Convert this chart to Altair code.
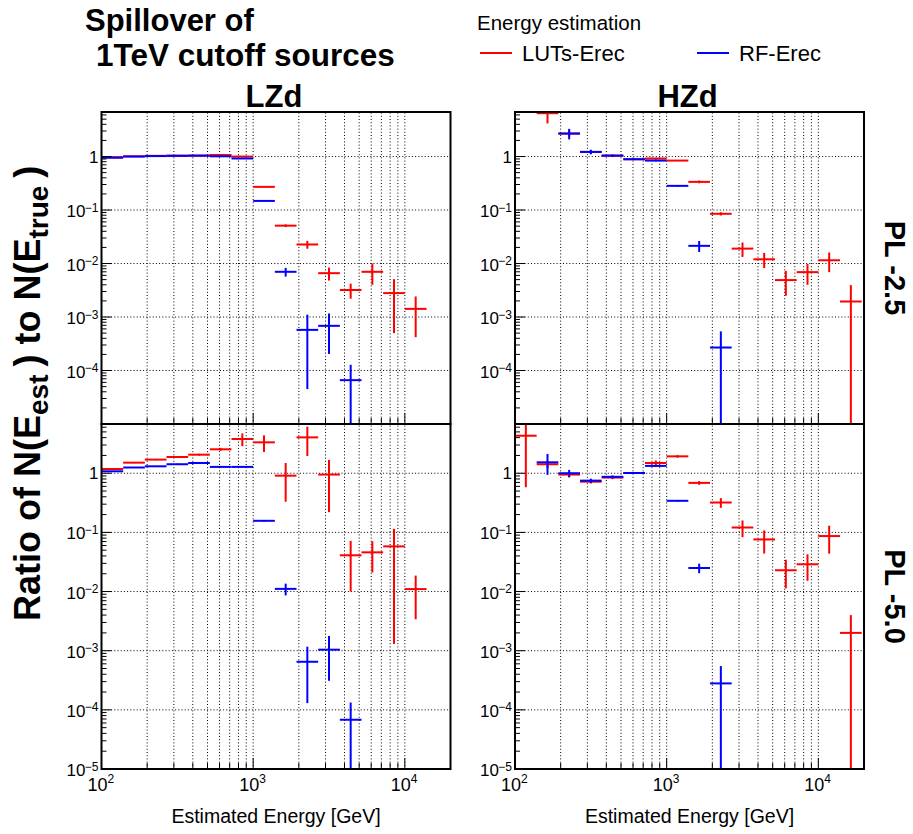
import altair as alt
import pandas as pd

# ---------------- values ----------------
bin_edges = [100.0, 138.95, 193.07, 268.27, 372.76, 517.95, 719.69, 1000.0,
             1389.5, 1930.7, 2682.7, 3727.6, 5179.5, 7196.9, 10000.0,
             13895.0, 19307.0]

zenith_columns = ["LZd", "HZd"]
index_rows = ["PL -2.5", "PL -5.0"]
methods = ["LUTs-Erec", "RF-Erec"]
method_colors = ["#ff0000", "#0000ff"]

# LZd, PL -2.5
lzd_pl25_luts = [0.97, 1.01, 1.03, 1.04, 1.04, 1.07, 1.00, 0.271, 0.051, 0.0227,
                 0.0066, 0.0032, 0.0070, 0.0028, 0.00142, None]
lzd_pl25_luts_err = [0.01, 0.01, 0.01, 0.01, 0.01, 0.015, 0.02, 0.006, 0.003, 0.0038,
                     0.0018, 0.0010, 0.0030, 0.0023, 0.0010, None]
lzd_pl25_rf = [0.95, 1.00, 1.02, 1.03, 1.04, 1.01, 0.92, 0.148, 0.0070, 5.75e-4,
               6.84e-4, 6.6e-5, None, None, None, None]
lzd_pl25_rf_err = [0.01, 0.01, 0.01, 0.01, 0.01, 0.01, 0.01, 0.004, 0.0013, 5.3e-4,
                   4.8e-4, 6.2e-5, None, None, None, None]

# HZd, PL -2.5
hzd_pl25_luts = [None, 6.46, 2.69, 1.22, 1.04, 0.89, 0.917, 0.84, 0.336, 0.085,
                 0.019, 0.012, 0.0049, 0.0069, 0.0115, 0.00195]
hzd_pl25_luts_err = [None, 2.3, 0.35, 0.08, 0.04, 0.03, 0.03, 0.02, 0.02, 0.006,
                     0.0057, 0.0038, 0.0024, 0.0029, 0.0046, 0.0020]
hzd_pl25_rf = [None, None, 2.69, 1.22, 1.04, 0.89, 0.84, 0.283, 0.0214, 2.69e-4,
               None, None, None, None, None, None]
hzd_pl25_rf_err = [None, None, 0.6, 0.12, 0.05, 0.03, 0.03, 0.01, 0.005, 2.7e-4,
                   None, None, None, None, None, None]

# LZd, PL -5.0
lzd_pl50_luts = [1.18, 1.51, 1.70, 1.88, 2.06, 2.54, 3.79, 3.33, 0.91, 4.04,
                 0.95, 0.041, 0.046, 0.058, 0.011, None]
lzd_pl50_luts_err = [0.02, 0.03, 0.04, 0.05, 0.07, 0.15, 0.93, 1.04, 0.58, 2.08,
                     0.73, 0.031, 0.025, 0.0567, 0.0076, None]
lzd_pl50_rf = [1.08, 1.25, 1.31, 1.42, 1.49, 1.28, 1.28, 0.157, 0.0111, 6.5e-4,
               1.04e-3, 6.8e-5, None, None, None, None]
lzd_pl50_rf_err = [0.01, 0.02, 0.02, 0.03, 0.03, 0.02, 0.02, 0.004, 0.0025, 5.2e-4,
                   7.3e-4, 6.5e-5, None, None, None, None]

# HZd, PL -5.0
hzd_pl50_luts = [4.31, 1.42, 0.95, 0.72, 0.845, 1.01, 1.49, 1.93, 0.687, 0.32,
                 0.121, 0.076, 0.0229, 0.0289, 0.0867, 0.0020]
hzd_pl50_luts_err = [3.73, 0.2, 0.1, 0.05, 0.05, 0.04, 0.15, 0.1, 0.05, 0.06,
                     0.038, 0.032, 0.0116, 0.0137, 0.043, 0.0020]
hzd_pl50_rf = [None, 1.53, 1.00, 0.75, 0.87, 1.01, 1.33, 0.342, 0.025, 2.8e-4,
               None, None, None, None, None, None]
hzd_pl50_rf_err = [None, 0.59, 0.14, 0.06, 0.05, 0.03, 0.05, 0.01, 0.0046, 2.7e-4,
                   None, None, None, None, None, None]

series = {
    ("LZd", "PL -2.5"): [(lzd_pl25_luts, lzd_pl25_luts_err), (lzd_pl25_rf, lzd_pl25_rf_err)],
    ("HZd", "PL -2.5"): [(hzd_pl25_luts, hzd_pl25_luts_err), (hzd_pl25_rf, hzd_pl25_rf_err)],
    ("LZd", "PL -5.0"): [(lzd_pl50_luts, lzd_pl50_luts_err), (lzd_pl50_rf, lzd_pl50_rf_err)],
    ("HZd", "PL -5.0"): [(hzd_pl50_luts, hzd_pl50_luts_err), (hzd_pl50_rf, hzd_pl50_rf_err)],
}

# axis ticks / labels
decades = [1e-5, 1e-4, 1e-3, 1e-2, 1e-1, 1.0]
minor_mantissas = [2, 3, 4, 5, 6, 7, 8, 9]
y_top_minor = [2, 3, 4, 5, 6]
x_decades = [100.0, 1000.0, 10000.0]
x_label_exps = ["2", "3", "4"]
y_label_vals = [1e-1, 1e-2, 1e-3, 1e-4, 1e-5]
y_label_exps = ["\u22121", "\u22122", "\u22123", "\u22124", "\u22125"]

title_lines = ["Spillover of", "1TeV cutoff sources"]
legend_title = "Energy estimation"
x_title = "Estimated Energy [GeV]"
y_title_parts = ["Ratio of N(E", "est", ") to N(E", "true", ")"]
y_title_sub = [False, True, False, True, False]

# ---------------- layout ----------------
X_DOMAIN = [100.0, 20000.0]
Y_DOMAIN = [1e-5, 6.8]
X_RANGE = {"LZd": [101.5, 450.5], "HZd": [515.0, 864.0]}
Y_RANGE = {"PL -2.5": [424.0, 112.0], "PL -5.0": [769.0, 424.0]}
FONT = "Liberation Sans"


def xs(col):
    return alt.Scale(type="log", domain=X_DOMAIN, range=X_RANGE[col], nice=False)


def ys(row):
    return alt.Scale(type="log", domain=Y_DOMAIN, range=Y_RANGE[row], nice=False)


def X(field, col):
    return alt.X(field, type="quantitative", scale=xs(col), axis=None)


def Y(field, row):
    return alt.Y(field, type="quantitative", scale=ys(row), axis=None)


# ---------------- tables ----------------
recs = []
for (col, row), pair in series.items():
    for m, (vals, errs) in zip(methods, pair):
        for i, (v, e) in enumerate(zip(vals, errs)):
            if v is None:
                continue
            lo, hi = bin_edges[i], bin_edges[i + 1]
            recs.append(dict(col=col, row=row, method=m, lo=lo, hi=hi,
                             ctr=(lo * hi) ** 0.5, val=v,
                             up=min(v + e, Y_DOMAIN[1]),
                             dn=max(v - e, Y_DOMAIN[0])))
data = pd.DataFrame(recs)

x_minor = [m * d for d in x_decades[:2] for m in minor_mantissas]
grid_x = pd.DataFrame({"xv": sorted(x_minor + x_decades[1:])})
grid_x["y0"] = Y_DOMAIN[0]
grid_x["y1"] = Y_DOMAIN[1]
grid_y = pd.DataFrame({"yv": decades[1:]})
grid_y["x0"] = X_DOMAIN[0]
grid_y["x1"] = X_DOMAIN[1]

y_minor = pd.DataFrame({"yv": [m * d for d in decades[:-1] for m in minor_mantissas] + y_top_minor})
y_major = pd.DataFrame({"yv": decades})
x_minor_df = pd.DataFrame({"xv": x_minor})
x_major_df = pd.DataFrame({"xv": x_decades})
frame = pd.DataFrame({"x0": [X_DOMAIN[0]], "x1": [X_DOMAIN[1]],
                      "y0": [Y_DOMAIN[0]], "y1": [Y_DOMAIN[1]]})

layers_grid, layers_data, layers_axes = [], [], []

for col in zenith_columns:
    for ri, row in enumerate(index_rows):
        xl = X_RANGE[col][0]
        yb = Y_RANGE[row][0]
        # grid
        layers_grid.append(
            alt.Chart(grid_x).mark_rule(color="black", strokeWidth=1, strokeDash=[1, 2.2])
            .encode(x=X("xv", col), y=Y("y0", row), y2="y1"))
        layers_grid.append(
            alt.Chart(grid_y).mark_rule(color="black", strokeWidth=1, strokeDash=[1, 2.2])
            .encode(y=Y("yv", row), x=X("x0", col), x2="x1"))
        # data
        for m, c in zip(methods, method_colors):
            d = data[(data.col == col) & (data.row == row) & (data.method == m)]
            layers_data.append(
                alt.Chart(d).mark_rule(color=c, strokeWidth=2)
                .encode(x=X("lo", col), x2="hi", y=Y("val", row)))
            layers_data.append(
                alt.Chart(d).mark_rule(color=c, strokeWidth=2)
                .encode(x=X("ctr", col), y=Y("dn", row), y2="up"))
        # frame
        layers_axes.append(
            alt.Chart(frame).mark_rect(fillOpacity=0, stroke="black", strokeWidth=2)
            .encode(x=X("x0", col), x2="x1", y=Y("y0", row), y2="y1"))
        # ticks (inside)
        layers_axes.append(
            alt.Chart(y_minor).mark_rule(color="black", strokeWidth=1)
            .encode(y=Y("yv", row), x=alt.value(xl), x2=alt.value(xl + 5)))
        layers_axes.append(
            alt.Chart(y_major).mark_rule(color="black", strokeWidth=1)
            .encode(y=Y("yv", row), x=alt.value(xl), x2=alt.value(xl + 10)))
        layers_axes.append(
            alt.Chart(x_minor_df).mark_rule(color="black", strokeWidth=1)
            .encode(x=X("xv", col), y=alt.value(yb), y2=alt.value(yb - 6)))
        layers_axes.append(
            alt.Chart(x_major_df).mark_rule(color="black", strokeWidth=1)
            .encode(x=X("xv", col), y=alt.value(yb), y2=alt.value(yb - 11)))
        # y labels
        nlab = 5 if ri == 1 else 4
        ylab = pd.DataFrame({"v": y_label_vals[:nlab], "exp": y_label_exps[:nlab]})
        ylab["base"] = "10"
        ylab["xe"] = X_DOMAIN[0]
        layers_axes.append(
            alt.Chart(ylab).mark_text(align="right", baseline="alphabetic", dx=-16, dy=7,
                                      fontSize=17, font=FONT, color="black")
            .encode(x=X("xe", col), y=Y("v", row), text="base:N"))
        layers_axes.append(
            alt.Chart(ylab).mark_text(align="right", baseline="alphabetic", dx=-3, dy=1.5,
                                      fontSize=12, font=FONT, color="black")
            .encode(x=X("xe", col), y=Y("v", row), text="exp:N"))
        one = pd.DataFrame({"v": [1.0], "t": ["1"], "xe": [X_DOMAIN[0]]})
        layers_axes.append(
            alt.Chart(one).mark_text(align="right", baseline="alphabetic", dx=-3, dy=6,
                                     fontSize=17, font=FONT, color="black")
            .encode(x=X("xe", col), y=Y("v", row), text="t:N"))
        # x labels on lower row
        if ri == 1:
            xlab = pd.DataFrame({"v": x_decades, "exp": x_label_exps})
            xlab["base"] = "10"
            xlab["yb"] = Y_DOMAIN[0]
            layers_axes.append(
                alt.Chart(xlab).mark_text(align="right", baseline="alphabetic", dx=6, dy=22,
                                          fontSize=18, font=FONT, color="black")
                .encode(x=X("v", col), y=Y("yb", row), text="base:N"))
            layers_axes.append(
                alt.Chart(xlab).mark_text(align="left", baseline="alphabetic", dx=6, dy=14,
                                          fontSize=12, font=FONT, color="black")
                .encode(x=X("v", col), y=Y("yb", row), text="exp:N"))
            cx = (X_RANGE[col][0] + X_RANGE[col][1]) / 2
            layers_axes.append(
                alt.Chart(pd.DataFrame({"t": [x_title]})).mark_text(
                    align="center", baseline="alphabetic", fontSize=19.5, font=FONT, color="black")
                .encode(x=alt.value(cx), y=alt.value(823), text="t:N"))


def text_layer(s, x, y, size, bold=False, align="left", baseline="alphabetic", angle=0, color="black"):
    kw = dict(align=align, baseline=baseline, fontSize=size, font=FONT, color=color)
    if bold:
        kw["fontWeight"] = "bold"
    if angle:
        kw["angle"] = angle
    return alt.Chart(pd.DataFrame({"t": [s]})).mark_text(**kw).encode(
        x=alt.value(x), y=alt.value(y), text="t:N")


layers_text = []
# title
layers_text.append(text_layer(title_lines[0], 85, 31, 31, bold=True))
layers_text.append(text_layer(title_lines[1], 96, 66, 31.5, bold=True))
# column headers
for col in zenith_columns:
    cx = (X_RANGE[col][0] + X_RANGE[col][1]) / 2
    layers_text.append(text_layer(col, cx - 2, 106.5, 31, bold=True, align="center"))
# row labels
for row in index_rows:
    cy = (Y_RANGE[row][0] + Y_RANGE[row][1]) / 2
    layers_text.append(text_layer(row, 885, cy, 29, bold=True, align="center", angle=90))
# legend
layers_text.append(text_layer(legend_title, 477, 30, 20.5))
legend_line_x = [480, 697]
for m, c, lx in zip(methods, method_colors, legend_line_x):
    layers_text.append(
        alt.Chart(pd.DataFrame({"t": [m]})).mark_rule(color=c, strokeWidth=2)
        .encode(x=alt.value(lx), x2=alt.value(lx + 32), y=alt.value(53)))
    layers_text.append(text_layer(m, lx + 42, 61, 22))

# y title with subscripts
BOLD_W = {"R": 722, "a": 556, "t": 333, "i": 278, "o": 611, " ": 278, "f": 333,
          "N": 722, "(": 333, ")": 333, "E": 667, "e": 556, "s": 556, "r": 389, "u": 611}
main_size, sub_size = 36, 28
cur = 621.0
for part, is_sub in zip(y_title_parts, y_title_sub):
    size = sub_size if is_sub else main_size
    xb = 48 if is_sub else 40
    layers_text.append(text_layer(part, xb, cur, size, bold=True, angle=270))
    cur -= sum(BOLD_W[ch] for ch in part) * size / 1000.0 + (8 if is_sub else 0)

chart = alt.layer(*(layers_grid + layers_data + layers_axes + layers_text)).resolve_scale(
    x="independent", y="independent"
).properties(
    width=913, height=834,
    autosize=alt.AutoSizeParams(type="none"),
    padding=0,
    background="white",
).configure_view(strokeWidth=0)

chart.save("out.html", embed_options={"renderer": "svg", "actions": False})
